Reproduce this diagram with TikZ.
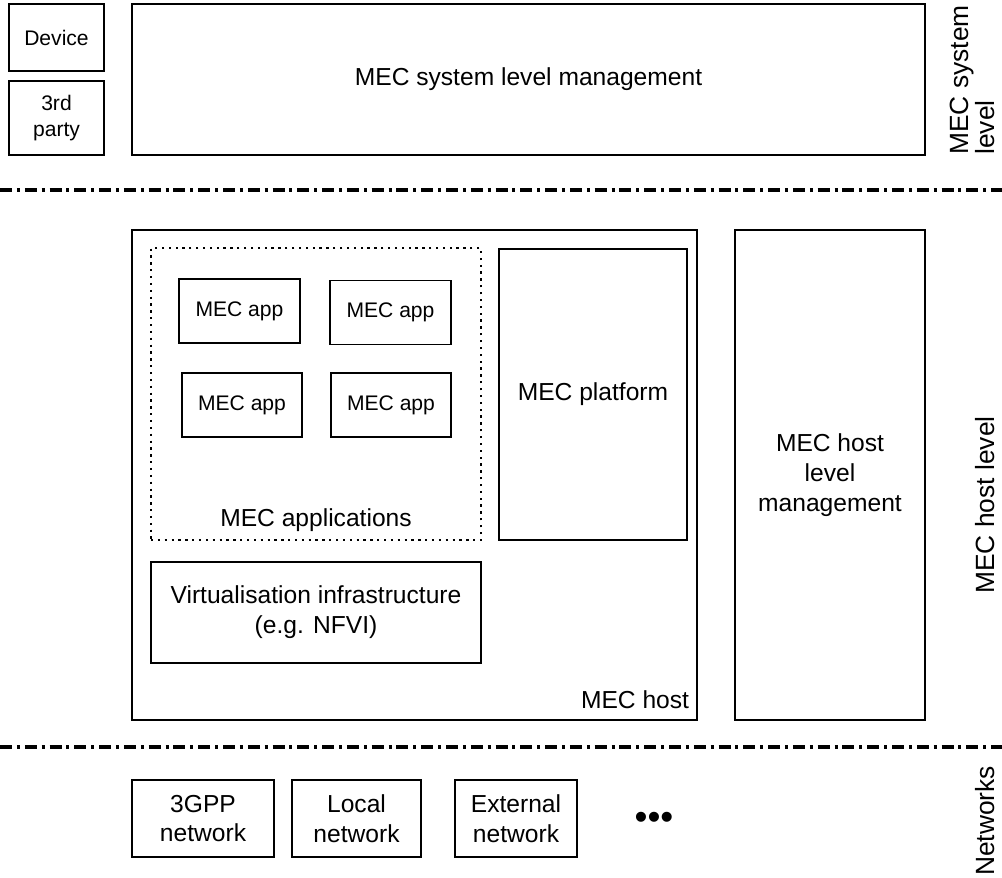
\documentclass[tikz,border=0pt]{standalone}
\usepackage{fontspec}
\setmainfont{Liberation Sans}
\usetikzlibrary{positioning}

\begin{document}
\begin{tikzpicture}[
    box/.style={rectangle, draw, line width=1.1pt, align=center, font=\fontsize{14}{17}\selectfont},
    smallbox/.style={box, font=\fontsize{12}{15}\selectfont},
    appgroup/.style={rectangle, draw, line width=1.1pt, dash pattern=on 1.3pt off 2.6pt},
    levelline/.style={line width=2pt, dash pattern=on 6.8pt off 2.8pt on 1.7pt off 2.8pt},
    level/.style={rotate=90, align=left, font=\fontsize{15}{15}\selectfont}
]
\useasboundingbox (0,0) rectangle (20.04,-17.54);

% System level
\node[smallbox, minimum width=1.9cm, minimum height=1.34cm] (device) at (1.13, -0.75) {Device};
\node[smallbox, minimum width=1.9cm, minimum height=1.48cm] (third) at (1.13, -2.36) {3rd\\party};
\node[box, minimum width=15.86cm, minimum height=3.02cm] (sysmgmt) at (10.57, -1.59) {MEC system level management};
\node[level, anchor=west, inner sep=0pt] (syslevel) at (19.45, -3.1) {MEC system\\level};

\coordinate (l1w) at (0, -3.8);
\coordinate (l1e) at (20.04, -3.8);
\draw[levelline] (l1w) -- (l1e);

% MEC host
\node[box, minimum width=11.3cm, minimum height=9.8cm] (host) at (8.29, -9.5) {};
\node[box, draw=none, anchor=east, inner sep=0pt] (hostlabel) at (13.8, -14.0) {MEC host};

% MEC applications
\node[appgroup, minimum width=6.6cm, minimum height=5.84cm] (apps) at (6.32, -7.88) {};
\node[box, draw=none] (appslabel) at (6.32, -10.4) {MEC applications};
\node[smallbox, minimum width=2.42cm, minimum height=1.28cm] (app1) at (4.79, -6.22) {MEC app};
\node[smallbox, minimum width=2.42cm, minimum height=1.28cm] (app2) at (7.81, -6.25) {MEC app};
\node[smallbox, minimum width=2.4cm, minimum height=1.28cm] (app3) at (4.84, -8.1) {MEC app};
\node[smallbox, minimum width=2.4cm, minimum height=1.28cm] (app4) at (7.82, -8.1) {MEC app};

\node[box, minimum width=3.76cm, minimum height=5.82cm] (platform) at (11.86, -7.89) {MEC platform};
\node[box, minimum width=6.6cm, minimum height=2.02cm] (virt) at (6.32, -12.25) {Virtualisation infrastructure\\(e.g. NFVI)};

% Host level management
\node[box, minimum width=3.8cm, minimum height=9.8cm] (hostmgmt) at (16.6, -9.5) {MEC host\\level\\management};
\node[level] (hostlevel) at (19.7, -10.1) {MEC host level};

\coordinate (l2w) at (0, -14.94);
\coordinate (l2e) at (20.04, -14.94);
\draw[levelline] (l2w) -- (l2e);

% Networks
\node[box, minimum width=2.84cm, minimum height=1.54cm] (gpp) at (4.06, -16.37) {3GPP\\network};
\node[box, minimum width=2.58cm, minimum height=1.54cm] (local) at (7.13, -16.37) {Local\\network};
\node[box, minimum width=2.44cm, minimum height=1.54cm] (external) at (10.32, -16.37) {External\\network};
\node[font=\fontsize{21}{21}\selectfont] (more) at (13.08, -16.42) {•••};
\node[level] (netlevel) at (19.7, -16.42) {Networks};

\end{tikzpicture}
\end{document}
